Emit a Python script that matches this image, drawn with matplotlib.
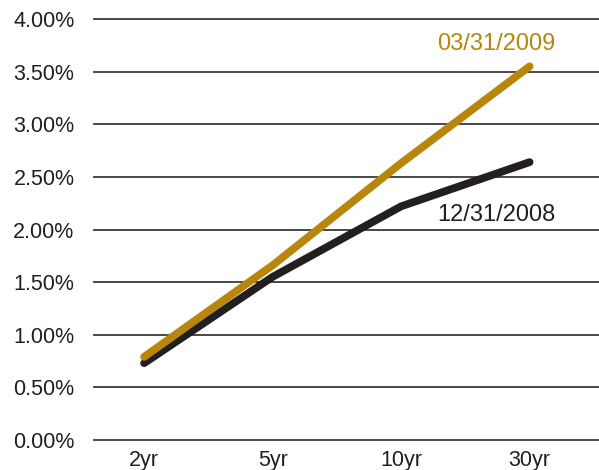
import matplotlib
matplotlib.use("Agg")
import matplotlib.pyplot as plt

categories = ["2yr", "5yr", "10yr", "30yr"]
mar_2009 = [0.79, 1.66, 2.63, 3.55]
dec_2008 = [0.73, 1.55, 2.22, 2.64]
yticks = [0.0, 0.5, 1.0, 1.5, 2.0, 2.5, 3.0, 3.5, 4.0]

gold = "#B8860B"
dark = "#231F20"

plt.rcParams['font.family'] = ['Liberation Sans', 'DejaVu Sans']

fig = plt.figure(figsize=(5.99, 4.70), dpi=100)
ax = fig.add_axes([94/599, 30/470, 1 - 94/599, (440-19)/470])

x = list(range(len(categories)))
for v in yticks:
    ax.axhline(v, color="#3a3a3a", lw=1.3, zorder=1, clip_on=False)

ax.plot(x, dec_2008, color=dark, lw=5.6, solid_capstyle="round", solid_joinstyle="round", zorder=3)
ax.plot(x, mar_2009, color=gold, lw=5.6, solid_capstyle="round", solid_joinstyle="round", zorder=4)

ax.set_xlim(-0.39, 3.54)
ax.set_ylim(0, 4)
ax.set_xticks(x)
ax.set_xticklabels(categories)
ax.set_yticks(yticks)
ax.set_yticklabels([f"{v:.2f}%" for v in yticks])
ax.tick_params(axis="both", length=0, labelsize=15.5, colors=dark)
ax.tick_params(axis="y", pad=14)
ax.tick_params(axis="x", pad=7)
for s in ax.spines.values():
    s.set_visible(False)

ax.text(2.74, 3.76, "03/31/2009", color=gold, fontsize=17, ha="center", va="center")
ax.text(2.74, 2.14, "12/31/2008", color=dark, fontsize=17, ha="center", va="center")

fig.savefig("out.png", dpi=100)
